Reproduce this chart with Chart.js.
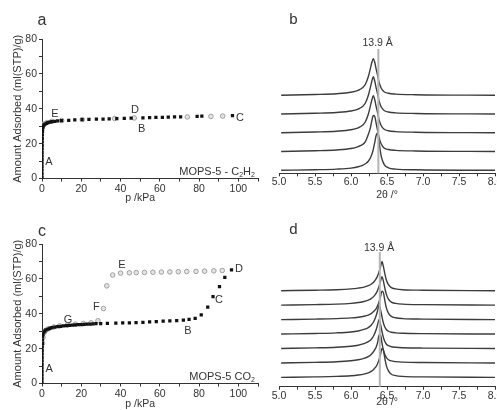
<!DOCTYPE html>
<html>
<head>
<meta charset="utf-8">
<script src="https://cdn.jsdelivr.net/npm/chart.js"></script>
<style>
  html, body { margin: 0; padding: 0; background: #fff; overflow: hidden; width: 497px; height: 410px; }
  canvas { position: absolute; }
</style>
</head>
<body>
<canvas id="chartA" width="265" height="205" style="left:0px;top:0px"></canvas>
<canvas id="chartB" width="262" height="205" style="left:250px;top:0px"></canvas>
<canvas id="chartC" width="265" height="205" style="left:0px;top:205px"></canvas>
<canvas id="chartD" width="262" height="205" style="left:250px;top:205px"></canvas>
<script>
// ---- panel a: MOPS-5 C2H2 isotherm (p in kPa, amount in ml(STP)/g)
const c2h2AdsP = [0.005,0.01,0.015,0.02,0.03,0.04,0.05,0.06,0.08,0.1,0.12,0.15,0.2,0.25,0.3,0.4,
                  0.6,1.0,1.5,2.2,3,4,5,6.5,8,10,
                  13.6,16.7,20.4,23.9,27.7,31.1,34.2,38.1,41.9,45.4,
                  51.4,54.8,58,61.3,64.3,67.5,70.6,79,81.4,97];
const c2h2AdsV = [1,3,5,7,9,11,13,15,17,19,21,23,25,27,28.5,29.5,
                  30.2,30.8,31.2,31.6,32,32.3,32.6,32.8,33,33.2,
                  33.4,33.6,33.8,33.9,34,34.1,34.2,34.4,34.5,34.6,
                  34.8,34.9,35,35.1,35.2,35.3,35.4,35.6,35.7,36];
const c2h2DesP = [92,86,74,47,37,20.5,10,5,2.5,1,0.4,0.15];
const c2h2DesV = [35.8,35.6,35.3,34.7,34.4,33.8,33.3,32.8,32.1,31.2,30.3,29.5];

// ---- panel c: MOPS-5 CO2 isotherm
const co2AdsP = [0.005,0.01,0.015,0.02,0.03,0.04,0.05,0.07,0.09,0.12,0.15,0.2,0.25,0.3,
                 0.5,1,1.5,2,3,4,5,6.5,8,9.5,11,12.5,14,15.5,17,18.5,20,21.5,23,24.5,26,27.5,
                 29.9,33.3,37.6,41.1,44.5,47.9,51.4,54.8,58.2,61.7,65.1,68.6,72,74.9,78,
                 81.1,84.4,87.1,90.4,93.1,96.5];
const co2AdsV = [1,3,5,7,9,11,13,15,17,19,21,23,25,27,
                 28.3,29.5,30.2,30.7,31.2,31.6,32,32.3,32.6,32.8,33,33.2,33.3,33.5,33.6,33.7,33.8,33.9,34,34.1,34.2,34.3,
                 34.4,34.5,34.6,34.7,34.8,34.9,35.1,35.3,35.5,35.7,35.9,36.1,36.4,36.8,37.4,
                 39.4,43.8,49.8,55.5,60.8,65.1];
const co2DesP = [91.8,87.5,82.8,78.4,73.7,69.4,65.1,60.8,56.5,52.2,48,44.5,40,36,33,31.3,
                 28.5,25,21,17,13,9,6,3.5,2,1,0.5,0.25];
const co2DesV = [64.8,64.6,64.4,64.3,64.2,64.1,64,63.9,63.8,63.7,63.6,63.5,63.3,62.2,56,43,
                 36,34.8,34.4,34,33.6,33.1,32.4,31.5,30.5,29,26.5,23];

// ---- panel b: PXRD patterns (2theta in degrees), listed bottom to top
const xrdB2theta = [5.03,5.5,5.8,6.0,6.1,6.16,6.2,6.24,6.27,6.29,6.31,6.33,6.35,6.37,6.39,6.42,6.46,6.52,6.62,6.9,8.0];
const xrdB1 = [0,0.6,1.2,2.2,3.5,5,6.5,9,12.5,16,21,28,35,37,28,14,6,2.5,1.2,0.5,0];
const xrdB2 = [0,0.8,1.6,3,5,7,10,17,24,31,36,35,28,21,14,7.5,3.5,2,1.2,0.6,0];
const xrdB3 = [0,0.8,1.6,3,5,7.5,11,18.5,27,33,37,33,26,20,13,7,3.5,2,1.2,0.6,0];
const xrdB4 = [0,0.8,1.6,3,5,7.5,11,18.5,27,33,37.3,33,26,20,13,7,3.5,2,1.2,0.6,0];
const xrdB5 = [0,0.8,1.6,3,5,7.5,11,18.5,27,33,36.7,33,26,20,13,7,3.5,2,1.2,0.6,0];

// ---- panel d: PXRD patterns, listed bottom to top
const xrdD2theta = [5.03,5.5,5.8,6.0,6.1,6.18,6.24,6.28,6.32,6.35,6.37,6.39,6.41,6.43,6.45,6.47,6.49,6.52,6.56,6.62,6.72,7.0,8.0];
const xrdD1 = [0,0.5,1,1.7,2.4,3.3,4.5,6,8.5,11,14,18,23,29,27,19,12,6.5,3.2,1.8,1,0.5,0];
const xrdD2 = [0,0.6,1.2,2.2,3.2,4.6,6.4,8.5,12,16,20.5,28,28,20,13,8.5,5.5,3.2,2,1.3,0.8,0.4,0];
const xrdD3 = [0,0.6,1.2,2.2,3.2,4.8,6.8,9,13.5,19,24,29,24,17,11,7,4.5,2.8,1.8,1.2,0.8,0.4,0];
const xrdD4 = [0,0.6,1.2,2.1,3.1,4.6,6.5,8.8,13,18.5,23.5,29,24.5,17.5,11,7,4.5,2.8,1.8,1.2,0.8,0.4,0];
const xrdD5 = [0,0.5,1,1.7,2.4,3.3,4.5,6,8.5,11,14,18,23,28.5,27,19,12,6.5,3.2,1.8,1,0.5,0];
const xrdD6 = [0,0.5,1,1.8,2.6,3.6,5,6.5,9,12,15,19,24,28.5,24,17,11,6,3,1.8,1,0.5,0];
const xrdD7 = [0,0.5,1,1.8,2.6,3.6,5,6.5,9,12,15,19,24,29.3,24,17,11,6,3,1.8,1,0.5,0];

const FONT = "'Liberation Sans', Arial, sans-serif";
const INK = '#333';

function toPoints(xs, ys, shift) {
    return xs.map((x, i) => ({ x: x, y: ys[i] + (shift || 0) }));
}

// draws text (with optional subscripts) at data positions
function drawRich(ctx, it, px, py) {
    const size = it.size || 11;
    const parts = it.parts || [[it.text, false]];
    const fontOf = (sub) => (sub ? Math.round(size * 0.65) : size) + 'px ' + FONT;
    const widths = parts.map(p => { ctx.font = fontOf(p[1]); return ctx.measureText(p[0]).width; });
    const total = widths.reduce((a, b) => a + b, 0);
    let x = px - total / 2;
    if (it.align === 'right') x = px - total;
    if (it.align === 'left') x = px;
    ctx.fillStyle = it.color || INK;
    ctx.textAlign = 'left';
    ctx.textBaseline = 'middle';
    parts.forEach((p, i) => {
        ctx.font = fontOf(p[1]);
        ctx.fillText(p[0], x, p[1] ? py + size * 0.3 : py);
        x += widths[i];
    });
}

const panelText = {
    id: 'panelText',
    afterDatasetsDraw(chart, args, opts) {
        const ctx = chart.ctx;
        const xs = chart.scales.x, ys = chart.scales.y;
        ctx.save();
        (opts.lines || []).forEach(l => {
            const px = xs.getPixelForValue(l.x);
            ctx.strokeStyle = '#b4b4b4';
            ctx.lineWidth = 2;
            ctx.beginPath();
            ctx.moveTo(px, ys.getPixelForValue(l.y0));
            ctx.lineTo(px, ys.getPixelForValue(l.y1));
            ctx.stroke();
        });
        (opts.items || []).forEach(it => drawRich(ctx, it, xs.getPixelForValue(it.x), ys.getPixelForValue(it.y)));
        ctx.restore();
    }
};

function isoChart(id, ads, des, items) {
    return new Chart(document.getElementById(id), {
        type: 'scatter',
        data: {
            datasets: [
                { data: ads, pointStyle: 'rect', pointRadius: 2.3, backgroundColor: '#111', borderColor: '#111', borderWidth: 0 },
                { data: des, pointStyle: 'circle', pointRadius: 2.3, backgroundColor: '#e4e4e4', borderColor: '#a0a0a0', borderWidth: 1 }
            ]
        },
        options: {
            responsive: false,
            animation: false,
            devicePixelRatio: 1,
            layout: { padding: { top: 39, right: 7, left: 0, bottom: 0 } },
            plugins: { legend: { display: false }, tooltip: { enabled: false }, panelText: { items: items } },
            scales: {
                x: {
                    type: 'linear', min: 0, max: 110,
                    afterFit: s => { s.height = 26.5; },
                    border: { color: INK, width: 1 },
                    grid: { drawOnChartArea: false, tickLength: 3, color: INK },
                    ticks: {
                        stepSize: 10, autoSkip: false, maxRotation: 0, padding: 1, color: INK,
                        font: { family: FONT, size: 10.5 },
                        callback: v => (v % 20 === 0 && v <= 100) ? v : ''
                    }
                },
                y: {
                    min: 0, max: 80,
                    afterFit: s => { s.width = 42; },
                    border: { color: INK, width: 1 },
                    grid: { drawOnChartArea: false, tickLength: 3, color: INK },
                    ticks: {
                        stepSize: 10, autoSkip: false, padding: 2, color: INK,
                        font: { family: FONT, size: 10.5 },
                        callback: v => v % 20 === 0 ? v : ''
                    },
                    title: {
                        display: true, text: 'Amount Adsorbed (ml(STP)/g)', color: INK,
                        font: { family: FONT, size: 11 }, padding: { top: 11, bottom: 0 }
                    }
                }
            }
        },
        plugins: [panelText]
    });
}

function xrdChart(id, twoTheta, traces, step, yMin, yMax, axisHeight, titlePad, items, lines) {
    const datasets = traces.map((t, i) => ({
        data: toPoints(twoTheta, t, i * step),
        borderColor: '#3c3c3c', borderWidth: 1.4, pointRadius: 0,
        cubicInterpolationMode: 'monotone', showLine: true, fill: false
    }));
    return new Chart(document.getElementById(id), {
        type: 'scatter',
        data: { datasets: datasets },
        options: {
            responsive: false,
            animation: false,
            devicePixelRatio: 1,
            layout: { padding: { top: 40, right: 17, left: 29, bottom: 0 } },
            plugins: { legend: { display: false }, tooltip: { enabled: false }, panelText: { items: items, lines: lines } },
            scales: {
                x: {
                    type: 'linear', min: 5, max: 8,
                    afterFit: s => { s.height = axisHeight; },
                    border: { color: INK, width: 1 },
                    grid: { drawOnChartArea: false, tickLength: 3, color: INK },
                    ticks: {
                        stepSize: 0.25, autoSkip: false, maxRotation: 0, padding: 0, color: INK,
                        font: { family: FONT, size: 10.5 },
                        callback: v => Math.abs(v * 2 - Math.round(v * 2)) < 1e-6 ? v.toFixed(1) : ''
                    },
                    title: {
                        display: true, text: '2\u03b8 /\u00b0', color: INK,
                        font: { family: FONT, size: 10.5 }, padding: { top: 0, bottom: titlePad }
                    }
                },
                y: { display: false, min: yMin, max: yMax }
            }
        },
        plugins: [panelText]
    });
}

isoChart('chartA', toPoints(c2h2AdsP, c2h2AdsV), toPoints(c2h2DesP, c2h2DesV), [
    { x: 0, y: 90.3, text: 'a', size: 16 },
    { x: 3.5, y: 9.3, text: 'A' },
    { x: 6.6, y: 37, text: 'E' },
    { x: 47.3, y: 39.3, text: 'D' },
    { x: 50.7, y: 28.2, text: 'B' },
    { x: 100.8, y: 34.7, text: 'C' },
    { x: 50, y: -11.2, text: 'p /kPa', size: 10.5 },
    { x: 108.4, y: 3.9, align: 'right', parts: [['MOPS-5 - C', false], ['2', true], ['H', false], ['2', true]] }
]);

isoChart('chartC', toPoints(co2AdsP, co2AdsV), toPoints(co2DesP, co2DesV), [
    { x: 0, y: 87, text: 'c', size: 16 },
    { x: 3.6, y: 8.3, text: 'A' },
    { x: 13.2, y: 36.4, text: 'G' },
    { x: 27.7, y: 43.9, text: 'F' },
    { x: 40.7, y: 67.9, text: 'E' },
    { x: 100.3, y: 65.6, text: 'D' },
    { x: 90.1, y: 47.9, text: 'C' },
    { x: 74.3, y: 30.1, text: 'B' },
    { x: 50, y: -11.8, text: 'p /kPa', size: 10.5 },
    { x: 108.4, y: 3.9, align: 'right', parts: [['MOPS-5 CO', false], ['2', true]] }
]);

xrdChart('chartB', xrdB2theta, [xrdB1, xrdB2, xrdB3, xrdB4, xrdB5], 18.75, -3, 130.3, 31.7, 4, [
    { x: 5.2, y: 150.3, text: 'b', size: 15 },
    { x: 6.37, y: 127.3, text: '13.9 \u00c5', size: 10.5 }
], [{ x: 6.38, y0: 121.3, y1: -3 }]);

xrdChart('chartD', xrdD2theta, [xrdD1, xrdD2, xrdD3, xrdD4, xrdD5, xrdD6, xrdD7], 14.45, -9.3, 132.4, 23.3, 2, [
    { x: 5.2, y: 147.4, text: 'd', size: 15 },
    { x: 6.39, y: 129.4, text: '13.9 \u00c5', size: 10.5 }
], [{ x: 6.40, y0: 125.4, y1: -9.3 }]);
</script>
</body>
</html>
